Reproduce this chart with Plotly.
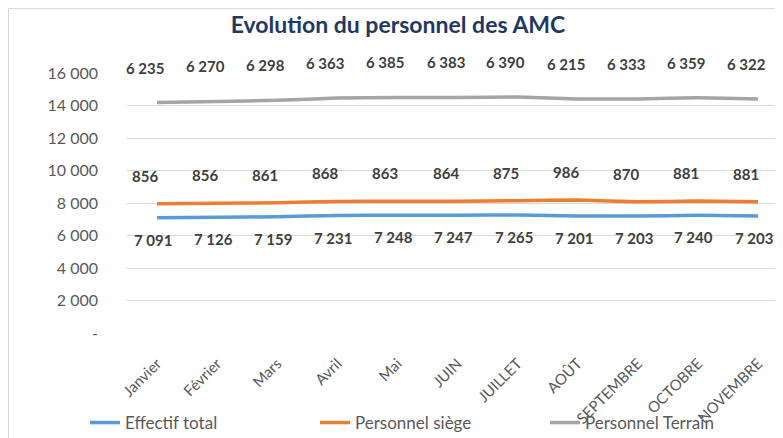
import plotly.graph_objects as go

months = ["Janvier", "Février", "Mars", "Avril", "Mai", "JUIN", "JUILLET", "AOÛT",
          "SEPTEMBRE", "OCTOBRE", "NOVEMBRE"]
effectif_total = [7091, 7126, 7159, 7231, 7248, 7247, 7265, 7201, 7203, 7240, 7203]
personnel_siege = [856, 856, 861, 868, 863, 864, 875, 986, 870, 881, 881]
personnel_terrain = [6235, 6270, 6298, 6363, 6385, 6383, 6390, 6215, 6333, 6359, 6322]
y_ticks = [0, 2000, 4000, 6000, 8000, 10000, 12000, 14000, 16000]
y_tick_text = ["-", "2 000", "4 000", "6 000", "8 000", "10 000", "12 000", "14 000", "16 000"]

FONT = "Lato"
series = [
    ("Effectif total", effectif_total, "#5B9BD5", -22, -4),
    ("Personnel siège", personnel_siege, "#ED7D31", 28, -12),
    ("Personnel Terrain", personnel_terrain, "#A5A5A5", 35, -12),
]

def fmt(v):
    return f"{v:,}".replace(",", " ")

fig = go.Figure()
cum = [0] * len(months)
annotations = []
for name, vals, color, ysh, xsh in series:
    cum = [c + v for c, v in zip(cum, vals)]
    fig.add_trace(go.Scatter(
        x=months, y=cum, name=name, mode="lines",
        line=dict(color=color, width=3.5, shape="spline", smoothing=0.4),
        hoverinfo="skip",
    ))
    for m, c, v in zip(months, cum, vals):
        annotations.append(dict(
            x=m, y=c, xref="x", yref="y", text=fmt(v), showarrow=False,
            yshift=ysh, xshift=xsh,
            font=dict(family=FONT, size=15, color="#404040", weight="bold"),
        ))

L, T, B = 119, 65, 113
PW = 783 - L
PH = 438 - T - B

fig.update_layout(
    width=783, height=438,
    margin=dict(l=L, r=0, t=T, b=B, autoexpand=False),
    paper_bgcolor="white", plot_bgcolor="white",
    title=dict(text="<b>Evolution du personnel des AMC</b>", x=390 / 783, xref="container",
               y=1 - 17 / 438, yref="container", xanchor="center", yanchor="middle",
               font=dict(family=FONT, size=23, color="#1F3864")),
    font=dict(family=FONT, color="#595959"),
    xaxis=dict(range=[-0.5, -0.5 + PW / 60.1], tickangle=-45, showgrid=False, showline=False,
               tickfont=dict(family=FONT, size=15, color="#595959"), ticklabelstandoff=18,
               automargin=False, fixedrange=True),
    yaxis=dict(range=[0, 16000], tickvals=y_ticks, ticktext=y_tick_text,
               showgrid=True, gridcolor="#D9D9D9", gridwidth=1, zeroline=False,
               tickfont=dict(family=FONT, size=16, color="#595959"), ticklabelstandoff=28,
               automargin=False, fixedrange=True),
    legend=dict(orientation="h", x=(77 - L) / PW, xanchor="left", y=-(415 - (T + PH)) / PH,
                yanchor="middle", entrywidth=185, entrywidthmode="pixels",
                font=dict(family=FONT, size=17, color="#595959"), bgcolor="rgba(0,0,0,0)"),
    annotations=annotations,
    showlegend=True,
    shapes=[dict(type="rect", xref="paper", yref="paper",
                 x0=(0.5 - L) / PW, x1=1.2, y0=-0.6, y1=(T + PH - 0.5) / PH,
                 line=dict(color="#D9D9D9", width=1), layer="below")],
)

fig.write_html("out.html")
